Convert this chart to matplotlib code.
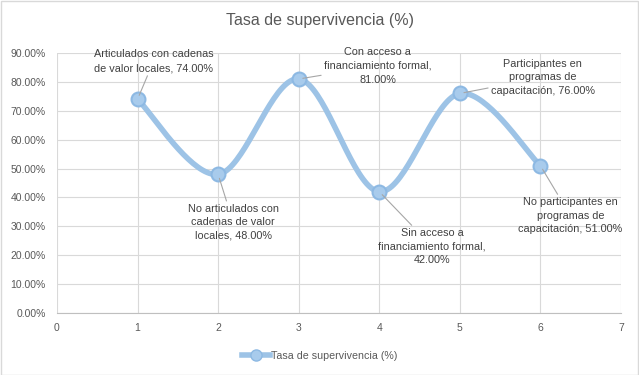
import numpy as np
import matplotlib
matplotlib.use("Agg")
import matplotlib.pyplot as plt
from matplotlib.patches import Rectangle
from matplotlib.lines import Line2D
from matplotlib.ticker import FuncFormatter, MultipleLocator

plt.rcParams['font.family'] = ['Liberation Sans', 'DejaVu Sans']

# ---- data ----
x_vals = [1, 2, 3, 4, 5, 6]
y_vals = [0.74, 0.48, 0.81, 0.42, 0.76, 0.51]
categories = [
    "Articulados con cadenas\nde valor locales",
    "No articulados con\ncadenas de valor\nlocales",
    "Con acceso a\nfinanciamiento formal,",
    "Sin acceso a\nfinanciamiento formal,",
    "Participantes en\nprogramas de\ncapacitación",
    "No participantes en\nprogramas de\ncapacitación",
]
series_name = "Tasa de supervivencia (%)"
title = "Tasa de supervivencia (%)"

# label offsets (pixels) relative to each point
label_offsets = [(16, 38), (15, -48), (79, 13), (53, -55), (83, 16), (30, -50)]

LINE = '#9DC3E6'
GREY = '#595959'

fig = plt.figure(figsize=(6.39, 3.75), dpi=100)
ax = fig.add_axes([57/639, 1-313/375, (621-57)/639, (313-53)/375])

# Excel-like smoothed line (cubic Bezier / Catmull-Rom)
P = np.column_stack([x_vals, y_vals]).astype(float)
n = len(P)
sx, sy = [], []
t = np.linspace(0, 1, 40)
for i in range(n - 1):
    p0 = P[max(i - 1, 0)]
    p1 = P[i]
    p2 = P[i + 1]
    p3 = P[min(i + 2, n - 1)]
    c1 = p1 + (p2 - p0) / 6.0
    c2 = p2 - (p3 - p1) / 6.0
    b = ((1 - t) ** 3)[:, None] * p1 + (3 * (1 - t) ** 2 * t)[:, None] * c1 + \
        (3 * (1 - t) * t ** 2)[:, None] * c2 + (t ** 3)[:, None] * p2
    sx.extend(b[:, 0]); sy.extend(b[:, 1])

ax.plot(sx, sy, color=LINE, lw=4.0, solid_capstyle='round', zorder=3)
ax.plot(x_vals, y_vals, linestyle='none', marker='o', markersize=10,
        markerfacecolor='#a8cbec', markeredgecolor='#8db9e3', markeredgewidth=1.5, zorder=4)

for xv, yv, cat, off in zip(x_vals, y_vals, categories, label_offsets):
    if cat.endswith(","):
        txt = f"{cat}\n{yv*100:.2f}%"
    else:
        txt = f"{cat}, {yv*100:.2f}%"
    ax.annotate(txt, xy=(xv, yv), xytext=off, textcoords='offset pixels',
                ha='center', va='center', fontsize=7.8, color='#404040',
                linespacing=1.45,
                arrowprops=dict(arrowstyle='-', color='#a6a6a6', lw=0.8,
                                shrinkA=0, shrinkB=3), zorder=5)

ax.set_xlim(0, 7)
ax.set_ylim(0, 0.9)
ax.xaxis.set_major_locator(MultipleLocator(1))
ax.yaxis.set_major_locator(MultipleLocator(0.1))
ax.yaxis.set_major_formatter(FuncFormatter(lambda v, p: f"{v*100:.2f}%"))
ax.grid(True, color='#d9d9d9', lw=0.8, zorder=0)
ax.set_axisbelow(True)
for s in ['top', 'right', 'left']:
    ax.spines[s].set_visible(False)
ax.spines['bottom'].set_color('#bfbfbf')
ax.tick_params(axis='both', length=0, colors=GREY, labelsize=7.5)
ax.tick_params(axis='x', pad=7)
ax.tick_params(axis='y', pad=8)

fig.text(0.5, 1 - 21/375, title, ha='center', va='center', fontsize=11.5, color=GREY)

# legend
h = Line2D([], [], color=LINE, lw=4, marker='o', markersize=8,
           markerfacecolor='#a8cbec', markeredgecolor='#8db9e3')
fig.legend([h], [series_name], loc='center', bbox_to_anchor=(0.5, 1 - 356/375),
           frameon=False, fontsize=7.7, labelcolor=GREY, handlelength=2.6,
           handletextpad=0.1)

fig.patches.append(Rectangle((0.5/639, 0.5/375), 1 - 1.5/639, 1 - 1.5/375,
                             transform=fig.transFigure, fill=False,
                             edgecolor='#d9d9d9', lw=1))

fig.savefig('out.png', dpi=100)
